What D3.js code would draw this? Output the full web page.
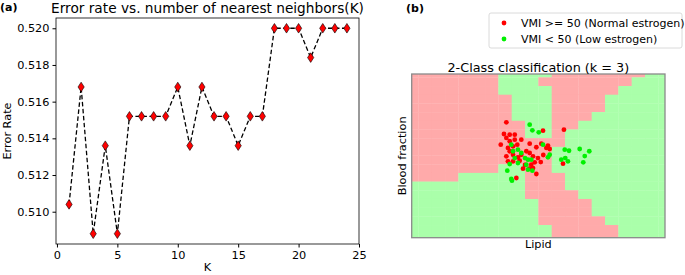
<!DOCTYPE html>
<html>
<head>
<meta charset="utf-8">
<script src="https://cdn.jsdelivr.net/npm/d3@7"></script>
<style>
  body { margin: 0; background: #fff; }
  svg { font-family: "DejaVu Sans", sans-serif; }
</style>
</head>
<body>
<svg></svg>
<script>
// ---------- data ----------
// (a) error rate for each K
const kValues = [1, 2, 3, 4, 5, 6, 7, 8, 9, 10, 11, 12, 13, 14, 15, 16, 17, 18, 19, 20, 21, 22, 23, 24];
const errorRates = [0.5104, 0.5168, 0.5088, 0.5136, 0.5088, 0.5152, 0.5152, 0.5152, 0.5152, 0.5168,
  0.5136, 0.5168, 0.5152, 0.5152, 0.5136, 0.5152, 0.5152, 0.5200, 0.5200, 0.5200, 0.5184, 0.5200, 0.5200, 0.5200];
const xTicks = [0, 5, 10, 15, 20, 25];
const yTicks = [0.510, 0.512, 0.514, 0.516, 0.518, 0.520];

// (b) mesh grid of predicted classes (1 = normal, 0 = low), rows top -> bottom
const gridX = [0, 1, 2, 3, 4, 5, 6, 7, 8, 9, 10, 11, 12, 13, 14, 15, 16, 17, 18, 19];
const gridY = [0, 1, 2, 3, 4, 5, 6, 7, 8, 9, 10, 11, 12, 13, 14, 15, 16, 17, 18, 19];
const gridClass = [
  "11111110000111111100",
  "11111110001111111000",
  "11111110000111110000",
  "11111111000111100000",
  "11111111000111100000",
  "11111111000111000000",
  "11111111100110000000",
  "11111111100100000000",
  "11111111111100000000",
  "11111111111000000000",
  "11111111111000000000",
  "11111110011000000000",
  "11110000011100000000",
  "00000000011100000000",
  "00000000011110000000",
  "00000000001111000000",
  "00000000001111000000",
  "00000000001111100000",
  "00000000000111110000",
  "00000000000111110000"
];
// samples: [lipid, blood fraction]
const normalPts = [
  [7.10, 5.68], [6.92, 7.02], [7.35, 7.10], [7.73, 7.10], [6.68, 8.25], [7.10, 7.48], [7.35, 7.86],
  [7.73, 7.68], [8.22, 7.68], [7.22, 8.63], [7.60, 8.44], [7.92, 8.25], [8.85, 8.14], [9.35, 8.55],
  [9.72, 8.14], [10.10, 8.63], [10.35, 8.75], [8.60, 9.01], [8.85, 9.21], [7.35, 9.01], [7.10, 9.59],
  [7.60, 9.41], [7.97, 9.71], [8.22, 9.41], [7.22, 10.17], [7.60, 10.17], [8.10, 10.10], [9.10, 9.59],
  [9.47, 9.79], [9.68, 10.25], [9.23, 10.28], [8.97, 10.56], [8.35, 11.02], [9.10, 10.94], [9.35, 11.63],
  [7.85, 12.09], [9.85, 6.64], [11.42, 6.53], [11.35, 10.44], [10.22, 8.35], [9.87, 9.44], [8.50, 10.59],
  [8.82, 11.02]
];
const lowPts = [
  [8.85, 5.95], [9.05, 6.60], [9.53, 6.83], [7.60, 9.01], [7.97, 8.83], [8.22, 9.21], [7.73, 9.79],
  [7.97, 10.36], [7.35, 10.48], [8.72, 9.98], [8.97, 9.98], [10.35, 9.41], [8.60, 10.56], [8.72, 11.13],
  [9.05, 11.25], [7.17, 11.25], [7.47, 12.20], [7.52, 12.40], [11.48, 8.83], [11.80, 8.95], [12.60, 8.75],
  [13.32, 9.01], [12.98, 9.56], [11.22, 9.98], [11.52, 9.79], [11.72, 10.17], [12.87, 10.28], [7.47, 8.25],
  [9.85, 8.25], [10.22, 9.71], [8.50, 9.79]
];
const legendLabels = ["VMI >= 50 (Normal estrogen)", "VMI < 50 (Low estrogen)"];

// ---------- setup ----------
const size = {w: 685, h: 275};
const svg = d3.select('svg').attr('width', size.w).attr('height', size.h);

// ================= panel (a) =================
const a = {l: 56, r: 359, t: 18, b: 244};
const x = d3.scaleLinear().domain([-0.08, 25]).range([a.l, a.r]);
const y = d3.scaleLinear().domain([0.50824, 0.52056]).range([a.b, a.t]);

const gA = svg.append('g');

gA.append('g')
  .attr('transform', `translate(0,${a.b})`)
  .call(d3.axisBottom(x).tickValues(xTicks).tickSize(3.5).tickPadding(3))
  .call(g => g.select('.domain').remove())
  .call(g => g.selectAll('text').attr('font-size', 11.3).attr('fill', '#000').attr('font-family', 'DejaVu Sans'));

gA.append('g')
  .attr('transform', `translate(${a.l},0)`)
  .call(d3.axisLeft(y).tickValues(yTicks).tickFormat(d3.format('.3f')).tickSize(3.5).tickPadding(3))
  .call(g => g.select('.domain').remove())
  .call(g => g.selectAll('text').attr('font-size', 11.3).attr('fill', '#000').attr('font-family', 'DejaVu Sans'));

gA.append('rect')
  .attr('x', a.l).attr('y', a.t)
  .attr('width', a.r - a.l).attr('height', a.b - a.t)
  .attr('fill', 'none').attr('stroke', '#000').attr('stroke-width', 0.8);

const line = d3.line().x((d, i) => x(kValues[i])).y(d => y(d));
gA.append('path')
  .datum(errorRates)
  .attr('d', line)
  .attr('fill', 'none')
  .attr('stroke', '#000')
  .attr('stroke-width', 1.3)
  .attr('stroke-dasharray', '4.5,2.5');

gA.selectAll('path.marker')
  .data(errorRates)
  .join('path')
  .classed('marker', true)
  .attr('d', 'M0,-4.8L3.1,0L0,4.8L-3.1,0Z')
  .attr('transform', (d, i) => `translate(${x(kValues[i])},${y(d)})`)
  .attr('fill', '#f00')
  .attr('stroke', '#000')
  .attr('stroke-width', 0.6);

gA.append('text')
  .attr('x', (a.l + a.r) / 2).attr('y', 13)
  .attr('text-anchor', 'middle').attr('font-size', 13.7)
  .text('Error rate vs. number of nearest neighbors(K)');

gA.append('text')
  .attr('x', (a.l + a.r) / 2).attr('y', 271)
  .attr('text-anchor', 'middle').attr('font-size', 11.3)
  .text('K');

gA.append('text')
  .attr('transform', `translate(11,${(a.t + a.b) / 2}) rotate(-90)`)
  .attr('text-anchor', 'middle').attr('font-size', 11.3)
  .text('Error Rate');

svg.append('text')
  .attr('x', 0).attr('y', 11)
  .attr('font-size', 11).attr('font-weight', 'bold')
  .text('(a)');

// ================= panel (b) =================
const b = {l: 411.7, r: 665, t: 74, b: 237.7};
const bx = d3.scaleLinear().domain([0, 19]).range([b.l, b.r]);
const by = d3.scaleLinear().domain([0.116, 18.96]).range([b.t, b.b]);
const colorScale = d3.scaleOrdinal().domain(['1', '0']).range(['#ffaaaa', '#aaffaa']);

svg.append('defs').append('clipPath').attr('id', 'clipB')
  .append('rect')
  .attr('x', b.l).attr('y', b.t)
  .attr('width', b.r - b.l).attr('height', b.b - b.t);

const gB = svg.append('g');
const cells = [];
gridClass.forEach((row, ri) => {
  row.split('').forEach((c, ci) => cells.push({cx: gridX[ci], cy: gridY[ri], c: c}));
});

gB.append('g')
  .attr('clip-path', 'url(#clipB)')
  .selectAll('rect')
  .data(cells)
  .join('rect')
  .attr('x', d => bx(d.cx - 0.5))
  .attr('y', d => by(d.cy - 0.5))
  .attr('width', d => bx(d.cx + 0.5) - bx(d.cx - 0.5) + 0.3)
  .attr('height', d => by(d.cy + 0.5) - by(d.cy - 0.5) + 0.3)
  .attr('fill', d => colorScale(d.c));

gB.selectAll('circle.normal')
  .data(normalPts)
  .join('circle')
  .classed('normal', true)
  .attr('cx', d => bx(d[0])).attr('cy', d => by(d[1]))
  .attr('r', 2.4).attr('fill', '#f00');

gB.selectAll('circle.low')
  .data(lowPts)
  .join('circle')
  .classed('low', true)
  .attr('cx', d => bx(d[0])).attr('cy', d => by(d[1]))
  .attr('r', 2.4).attr('fill', '#00f000');

gB.append('rect')
  .attr('x', b.l).attr('y', b.t)
  .attr('width', b.r - b.l).attr('height', b.b - b.t)
  .attr('fill', 'none').attr('stroke', '#8a8a8a').attr('stroke-width', 1.3);

gB.append('text')
  .attr('x', (b.l + b.r) / 2).attr('y', 72)
  .attr('text-anchor', 'middle').attr('font-size', 12.8)
  .text('2-Class classification (k = 3)');

gB.append('text')
  .attr('x', (b.l + b.r) / 2).attr('y', 248)
  .attr('text-anchor', 'middle').attr('font-size', 11.3)
  .text('Lipid');

gB.append('text')
  .attr('transform', `translate(406,${(b.t + b.b) / 2}) rotate(-90)`)
  .attr('text-anchor', 'middle').attr('font-size', 11.3)
  .text('Blood fraction');

// legend
const legend = svg.append('g');
legend.append('rect')
  .attr('x', 489).attr('y', 13).attr('width', 193).attr('height', 35).attr('rx', 2)
  .attr('fill', '#fff').attr('stroke', '#d0d0d0').attr('stroke-width', 0.8);
legend.selectAll('circle')
  .data(legendLabels)
  .join('circle')
  .attr('cx', 504).attr('cy', (d, i) => 23 + i * 16)
  .attr('r', 2.4)
  .attr('fill', (d, i) => i === 0 ? '#f00' : '#00f000');
legend.selectAll('text')
  .data(legendLabels)
  .join('text')
  .attr('x', 521).attr('y', (d, i) => 27 + i * 16)
  .attr('font-size', 11)
  .text(d => d);

svg.append('text')
  .attr('x', 406).attr('y', 12)
  .attr('font-size', 11).attr('font-weight', 'bold')
  .text('(b)');
</script>
</body>
</html>
